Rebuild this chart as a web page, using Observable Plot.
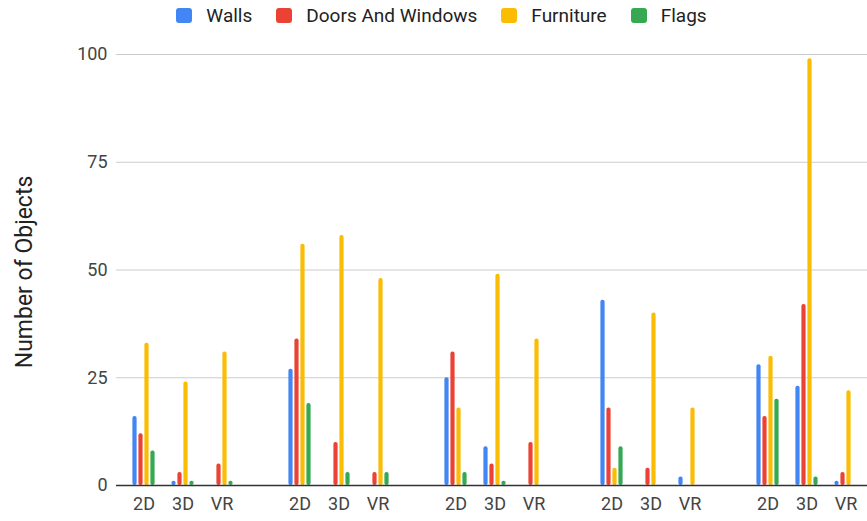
<!DOCTYPE html>
<html>
<head>
<meta charset="utf-8">
<script src="https://cdn.jsdelivr.net/npm/d3@7"></script>
<script src="https://cdn.jsdelivr.net/npm/@observablehq/plot@0.6"></script>
<style>
  html, body { margin: 0; padding: 0; background: #fff; }
  #wrap { width: 867px; height: 521px; overflow: hidden; font-family: Roboto, sans-serif; }
  #legend { height: 30px; display: flex; justify-content: center; align-items: center; padding-left: 16px; box-sizing: border-box; font-size: 19px; color: #222; }
  .item { display: flex; align-items: center; margin: 0 12px; }
  .sw { width: 16px; height: 15px; border-radius: 3px; margin-right: 14px; }
</style>
</head>
<body>
<div id="wrap">
  <div id="legend"></div>
  <div id="chart"></div>
</div>
<script>
// ---- data ----
const groups = ["1", "2", "3", "4", "5"];
const conditions = ["2D", "3D", "VR"];
const seriesNames = ["Walls", "Doors And Windows", "Furniture", "Flags"];
const seriesColors = ["#4285F4", "#EA4335", "#FBBC04", "#34A853"];
// values ordered group by group, each group 2D, 3D, VR
const walls     = [16, 1, 0,  27, 0, 0,  25, 9, 0,  43, 0, 2,  28, 23, 1];
const doors     = [12, 3, 5,  34, 10, 3, 31, 5, 10, 18, 4, 0,  16, 42, 3];
const furniture = [33, 24, 31, 56, 58, 48, 18, 49, 34, 4, 40, 18, 30, 99, 22];
const flags     = [8, 1, 1,   19, 3, 3,  3, 1, 0,   9, 0, 0,   20, 2, 0];
const yTicks = [0, 25, 50, 75, 100];
const yTitle = "Number of Objects";

// ---- build table ----
const seriesValues = [walls, doors, furniture, flags];
const slots = [];
groups.forEach((g, gi) => {
  conditions.forEach(c => slots.push(g + "|" + c));
  if (gi < groups.length - 1) slots.push(g + "|");
});
const rows = [];
groups.forEach((g, gi) => {
  conditions.forEach((c, ci) => {
    seriesNames.forEach((s, si) => {
      rows.push({slot: g + "|" + c, series: s, value: seriesValues[si][gi * conditions.length + ci]});
    });
  });
});

// ---- legend ----
const legend = document.getElementById("legend");
seriesNames.forEach((s, i) => {
  const it = document.createElement("div");
  it.className = "item";
  const sw = document.createElement("div");
  sw.className = "sw";
  sw.style.background = seriesColors[i];
  const t = document.createElement("span");
  t.textContent = s;
  it.appendChild(sw); it.appendChild(t);
  legend.appendChild(it);
});

// ---- chart ----
const pitch = 6;
const barMarks = seriesNames.map((s, i) =>
  Plot.barY(rows.filter(d => d.series === s), {
    x: "slot", y: "value", fill: seriesColors[i],
    dx: (i - 1.5) * pitch, insetLeft: 17.4, insetRight: 17.4, rx: 2
  })
);

const chart = Plot.plot({
  width: 867,
  height: 491,
  marginTop: 24,
  marginBottom: 36,
  marginLeft: 123,
  marginRight: 2,
  style: {fontFamily: "Roboto, sans-serif", fontSize: "18px", color: "#444", background: "white", overflow: "visible"},
  x: {domain: slots, padding: 0, tickSize: 0, tickPadding: 12, label: null, tickFormat: d => d.split("|")[1]},
  y: {domain: [0, 100], ticks: yTicks, tickSize: 0, tickPadding: 16, label: null},
  marks: [
    Plot.ruleY(yTicks.filter(v => v > 0), {stroke: "#cccccc", strokeWidth: 1, insetLeft: -7, insetRight: -2}),
    ...barMarks,
    Plot.ruleY([0], {stroke: "#333", strokeWidth: 1.5, insetLeft: -7, insetRight: -2}),
    Plot.text([yTitle], {frameAnchor: "left", textAnchor: "middle", rotate: -90, dx: -99, dy: 2, fontSize: 23, fill: "#222", text: d => d})
  ]
});
document.getElementById("chart").appendChild(chart);
</script>
</body>
</html>
